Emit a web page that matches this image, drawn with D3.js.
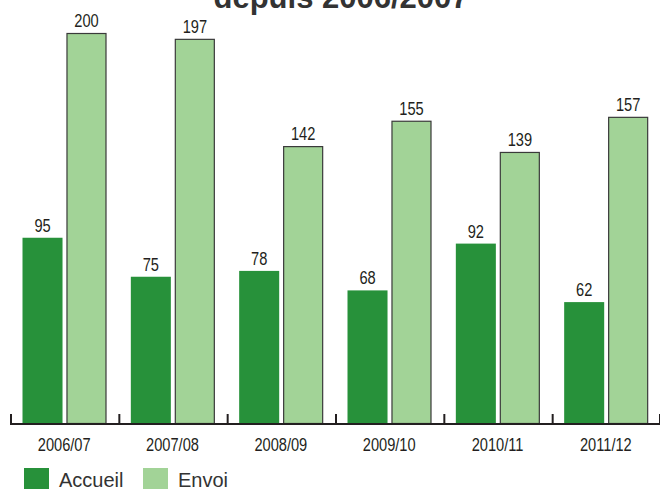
<!DOCTYPE html>
<html><head><meta charset="utf-8">
<script src="https://cdn.jsdelivr.net/npm/d3@7"></script>
<style>body{margin:0;background:#fff}svg{display:block}</style>
</head><body>
<script>
const categories = ["2006/07","2007/08","2008/09","2009/10","2010/11","2011/12"];
const seriesNames = ["Accueil","Envoi"];
const accueil = [95,75,78,68,92,62];
const envoi = [200,197,142,155,139,157];
const titleText = "depuis 2006/2007";

const W = 660, H = 490;
const colors = {Accueil:"#27913a", Envoi:"#a2d397"};
const narrow = 0.77;
const svg = d3.select("body").append("svg").attr("width",W).attr("height",H);

const x0 = d3.scaleBand().domain(categories).range([10,660]);
const x1 = d3.scaleBand().domain(seriesNames).range([12.5,96.5]).paddingInner(0.09);
const y = d3.scaleLinear().domain([0,200]).range([423,33]);

svg.append("text").attr("x",341).attr("y",8).attr("text-anchor","middle")
  .attr("font-family","'Liberation Sans',Arial,sans-serif").attr("font-weight","bold")
  .attr("font-size",31).attr("fill","#333").text(titleText);

const data = categories.map((c,i)=>({cat:c, vals:[{s:"Accueil",v:accueil[i]},{s:"Envoi",v:envoi[i]}]}));
const g = svg.selectAll("g.cat").data(data).enter().append("g")
  .attr("transform",d=>`translate(${x0(d.cat)},0)`);
g.selectAll("rect").data(d=>d.vals).enter().append("rect")
  .attr("x",d=>x1(d.s)+(d.s==="Envoi"?0.5:0))
  .attr("y",d=>y(d.v)+(d.s==="Envoi"?0.5:0))
  .attr("width",d=>x1.bandwidth()-(d.s==="Envoi"?1:0))
  .attr("height",d=>y(0)-y(d.v))
  .attr("fill",d=>colors[d.s])
  .attr("stroke",d=>d.s==="Envoi"?"#3a3a3a":"none")
  .attr("stroke-width",1.2);
g.selectAll("text.val").data(d=>d.vals).enter().append("text")
  .attr("class","val")
  .attr("transform",d=>`translate(${x1(d.s)+x1.bandwidth()/2},${y(d.v)-6}) scale(${narrow},1)`)
  .attr("text-anchor","middle")
  .attr("font-family","'Liberation Sans',Arial,sans-serif")
  .attr("font-size",19).attr("fill","#231f20").text(d=>d.v);

// axis
const axisG = svg.append("g").attr("transform","translate(0,424)");
axisG.append("line").attr("x1",10).attr("x2",660).attr("stroke","#231f20").attr("stroke-width",2.2);
const tickPos = categories.map(c=>x0(c)).concat([x0.range()[1]-1]);
axisG.selectAll("line.tk").data(tickPos).enter().append("line")
  .attr("x1",d=>d+1).attr("x2",d=>d+1).attr("y1",0).attr("y2",-10)
  .attr("stroke","#231f20").attr("stroke-width",2);
axisG.selectAll("text").data(categories).enter().append("text")
  .attr("transform",d=>`translate(${x0(d)+x0.bandwidth()/2},26.5) scale(${narrow},1)`)
  .attr("text-anchor","middle")
  .attr("font-family","'Liberation Sans',Arial,sans-serif")
  .attr("font-size",19).attr("fill","#231f20").text(d=>d);

// legend
const legX = [24,143];
const lg = svg.selectAll("g.leg").data(seriesNames).enter().append("g")
  .attr("transform",(d,i)=>`translate(${legX[i]},468)`);
lg.append("rect").attr("width",25).attr("height",21).attr("fill",d=>colors[d]);
lg.append("text").attr("x",35).attr("y",18.5)
  .attr("font-family","'Liberation Sans',Arial,sans-serif").attr("font-size",20)
  .attr("fill","#333").text(d=>d);
</script>
</body></html>
